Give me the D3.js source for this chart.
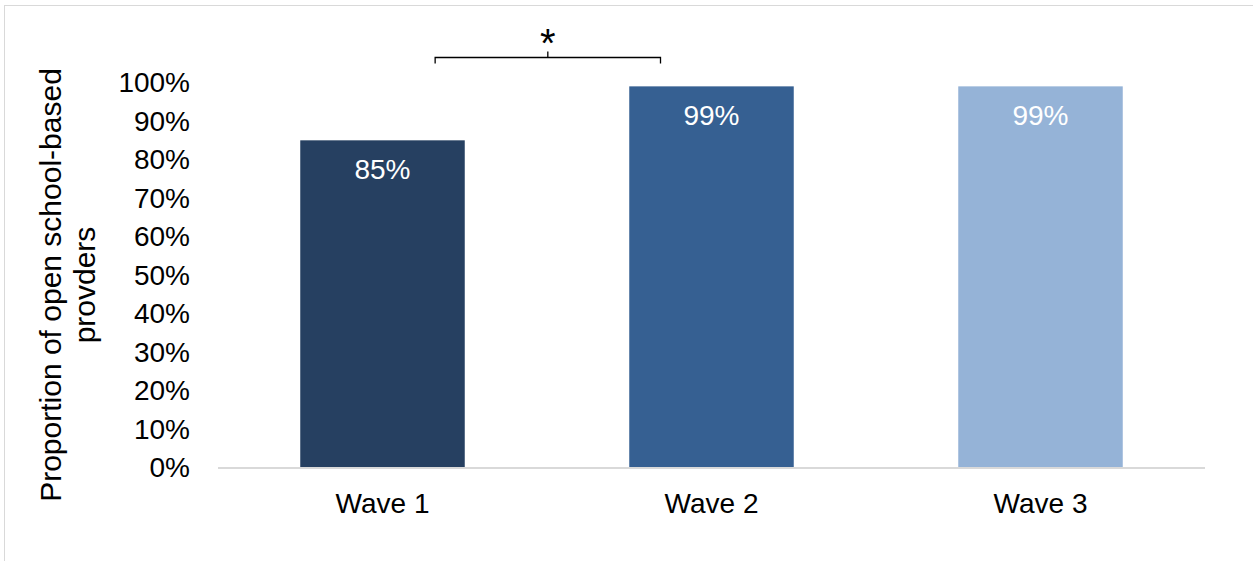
<!DOCTYPE html>
<html>
<head>
<meta charset="utf-8">
<script src="https://cdn.jsdelivr.net/npm/d3@7"></script>
<style>
  html, body { margin: 0; padding: 0; background: #fff; }
  svg { display: block; }
  text { font-family: "Liberation Sans", Arial, sans-serif; }
</style>
</head>
<body>
<svg id="chart" width="1253" height="561"></svg>
<script>
const categories = ["Wave 1", "Wave 2", "Wave 3"];
const values = [85, 99, 99];
const valueLabels = ["85%", "99%", "99%"];
const colors = ["#264061", "#366092", "#95B3D7"];
const yTicks = [0, 10, 20, 30, 40, 50, 60, 70, 80, 90, 100];
const yTitleLines = ["Proportion of open school-based", "provders"];
const significance = { from: "Wave 1", to: "Wave 2", label: "*" };

const svg = d3.select("#chart");
const W = 1253, H = 561;
const fontSize = 28;

// outer border
svg.append("rect")
  .attr("x", 4.5).attr("y", 5.5)
  .attr("width", W + 10).attr("height", H + 10)
  .attr("fill", "none").attr("stroke", "#d9d9d9").attr("stroke-width", 1);

const x = d3.scaleBand().domain(categories).range([218, 1205]).paddingInner(0.5).paddingOuter(0.25);
const y = d3.scaleLinear().domain([0, 100]).range([468, 82.5]);

// y axis labels (no line, no ticks)
const yAxis = d3.axisLeft(y).tickValues(yTicks).tickFormat(d => d + "%").tickSize(0).tickPadding(0);
const yg = svg.append("g").attr("transform", "translate(190,0)").call(yAxis);
yg.select(".domain").remove();
yg.selectAll("text").attr("font-size", fontSize).attr("fill", "#000")
  .attr("font-family", "Liberation Sans, Arial, sans-serif");

// bars
svg.selectAll("rect.bar").data(categories).enter().append("rect")
  .attr("class", "bar")
  .attr("x", d => x(d))
  .attr("width", x.bandwidth())
  .attr("y", (d, i) => y(values[i]))
  .attr("height", (d, i) => y(0) - y(values[i]))
  .attr("fill", (d, i) => colors[i]);

// x axis
const xAxis = d3.axisBottom(x).tickSize(0).tickPadding(0);
const xg = svg.append("g").attr("transform", `translate(0,${y(0)})`).call(xAxis);
xg.select(".domain").attr("stroke", "#d9d9d9").attr("stroke-width", 2)
  .attr("d", "M218,0H1205");
xg.selectAll("text").attr("font-size", fontSize).attr("fill", "#000")
  .attr("font-family", "Liberation Sans, Arial, sans-serif")
  .attr("dy", null).attr("y", 45);

// value labels
svg.selectAll("text.val").data(categories).enter().append("text")
  .attr("class", "val")
  .attr("x", d => x(d) + x.bandwidth() / 2)
  .attr("y", (d, i) => y(values[i]) + 39)
  .attr("text-anchor", "middle")
  .attr("font-size", fontSize)
  .attr("fill", "#fff")
  .text((d, i) => valueLabels[i]);

// y title
const yt = svg.append("text")
  .attr("transform", "translate(0,285) rotate(-90)")
  .attr("text-anchor", "middle")
  .attr("font-size", 30)
  .attr("fill", "#000");
yt.selectAll("tspan").data(yTitleLines).enter().append("tspan")
  .attr("x", 0)
  .attr("y", (d, i) => 61 + i * 34)
  .text(d => d);

// significance bracket
const bx0 = x(significance.from) + x.bandwidth() * 0.82;
const bx1 = x(significance.to) + x.bandwidth() * 0.19;
const bm = (bx0 + bx1) / 2;
const by = 57.5;
svg.append("path")
  .attr("d", `M${bx0},${by + 6}V${by}H${bx1}V${by + 6}M${bm},${by}V${by - 6}`)
  .attr("fill", "none").attr("stroke", "#000").attr("stroke-width", 1.3);
svg.append("text")
  .attr("x", bm).attr("y", 57)
  .attr("text-anchor", "middle")
  .attr("font-size", 40)
  .attr("fill", "#000")
  .text(significance.label);
</script>
</body>
</html>
